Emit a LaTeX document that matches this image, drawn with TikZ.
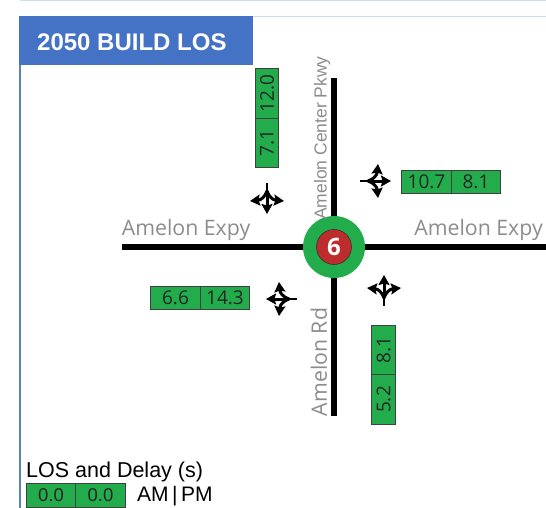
\documentclass[tikz,border=0pt]{standalone}
\usepackage{fontspec}
\setmainfont{Open Sans}
\newfontfamily\legendfont{Liberation Sans}
\usetikzlibrary{arrows.meta}
\definecolor{banner}{RGB}{68,114,196}
\definecolor{frameblue}{RGB}{90,130,190}
\definecolor{stripblue}{RGB}{205,220,240}
\definecolor{losgreen}{RGB}{34,172,76}
\definecolor{signalred}{RGB}{190,45,45}
\definecolor{roadlabel}{RGB}{140,140,140}
\tikzset{
  losbox/.style={draw=black!75,fill=losgreen,line width=0.6pt,minimum width=49.5pt,minimum height=23.5pt,inner sep=0pt,font=\fontsize{19}{19}\selectfont,text=black!85},
  roadline/.style={line width=6pt,black},
  roadname/.style={text=roadlabel,font=\fontsize{21.3}{21}\selectfont,inner sep=0pt},
  turntip/.style={-{Stealth[length=10pt,width=11pt,inset=1.5pt]},line width=3pt},
  pics/turnmark/.style={code={
    % stem and three movements, drawn heading north
    \draw[line width=2.6pt] (0,15) -- (0,-6);
    \draw[turntip] (0,4) -- (0,-16);
    \draw[turntip] (0,7) .. controls (-2,1) and (-6,-2) .. (-17,-3);
    \draw[turntip] (0,7) .. controls (2,1) and (6,-2) .. (17,-3);
  }}
}
\begin{document}
\begin{tikzpicture}[x=1pt,y=-1pt]
  \useasboundingbox (0,0) rectangle (546,508);
  % Frame
  \fill[stripblue] (20,0) rectangle (546,1.5);
  \draw[stripblue,line width=1pt] (253,16.5) -- (546,16.5);
  \draw[frameblue,line width=2.5pt] (20,16) -- (20,508);
  \node[fill=banner,minimum width=234pt,minimum height=49pt,inner sep=0pt] (banner) at (136,40.5) {};
  \node[text=white,font=\fontsize{24}{24}\selectfont\legendfont\bfseries,anchor=west,inner sep=0pt] (title) at (37,42) {2050 BUILD LOS};
  % Roads
  \draw[roadline] (334,78) -- (334,416);
  \draw[roadline] (122,247) -- (546,247);
  \node[circle,fill=losgreen,minimum size=62pt,inner sep=0pt] (outer) at (334,247) {};
  \node[circle,draw=black!80,fill=signalred,line width=0.6pt,minimum size=35pt,inner sep=0pt,text=white,font=\fontsize{24}{24}\selectfont\bfseries] (signal) at (334,247) {6};
  % Road names
  \node[roadname] (expywest) at (186,230) {Amelon Expy};
  \node[roadname] (expyeast) at (478.5,230) {Amelon Expy};
  \node[roadname,rotate=90,font=\fontsize{17.5}{17}\selectfont\legendfont] (pkwy) at (322,138) {Amelon Center Pkwy};
  \node[roadname,rotate=90] (rd) at (319,362) {Amelon Rd};
  % South-bound approach
  \node[losbox,rotate=90] (topam) at (267,143) {7.1};
  \node[losbox,rotate=90] (toppm) at (267,93.5) {12.0};
  \pic[rotate=180] at (267,198) {turnmark};
  % West-bound approach
  \node[losbox] (eastam) at (426.5,182) {10.7};
  \node[losbox] (eastpm) at (476,182) {8.1};
  \pic[rotate=270] at (375,181) {turnmark};
  % East-bound approach
  \node[losbox] (westam) at (175.5,298) {6.6};
  \node[losbox] (westpm) at (225,298) {14.3};
  \pic[rotate=90] at (282,299) {turnmark};
  % North-bound approach
  \node[losbox,rotate=90] (southam) at (383.5,399.5) {5.2};
  \node[losbox,rotate=90] (southpm) at (383.5,350) {8.1};
  \pic at (384,291) {turnmark};
  % Legend
  \node[anchor=west,inner sep=0pt,font=\fontsize{21.5}{21}\selectfont\legendfont] (legend) at (26,472) {LOS and Delay (s)};
  \node[losbox,font=\fontsize{18.5}{18}\selectfont\legendfont] (legendam) at (51,495.5) {0.0};
  \node[losbox,font=\fontsize{18.5}{18}\selectfont\legendfont] (legendpm) at (100.5,495.5) {0.0};
  \node[anchor=west,inner sep=0pt,font=\fontsize{21}{21}\selectfont\legendfont] (ampm) at (137,496) {AM\,|\,PM};
\end{tikzpicture}
\end{document}
